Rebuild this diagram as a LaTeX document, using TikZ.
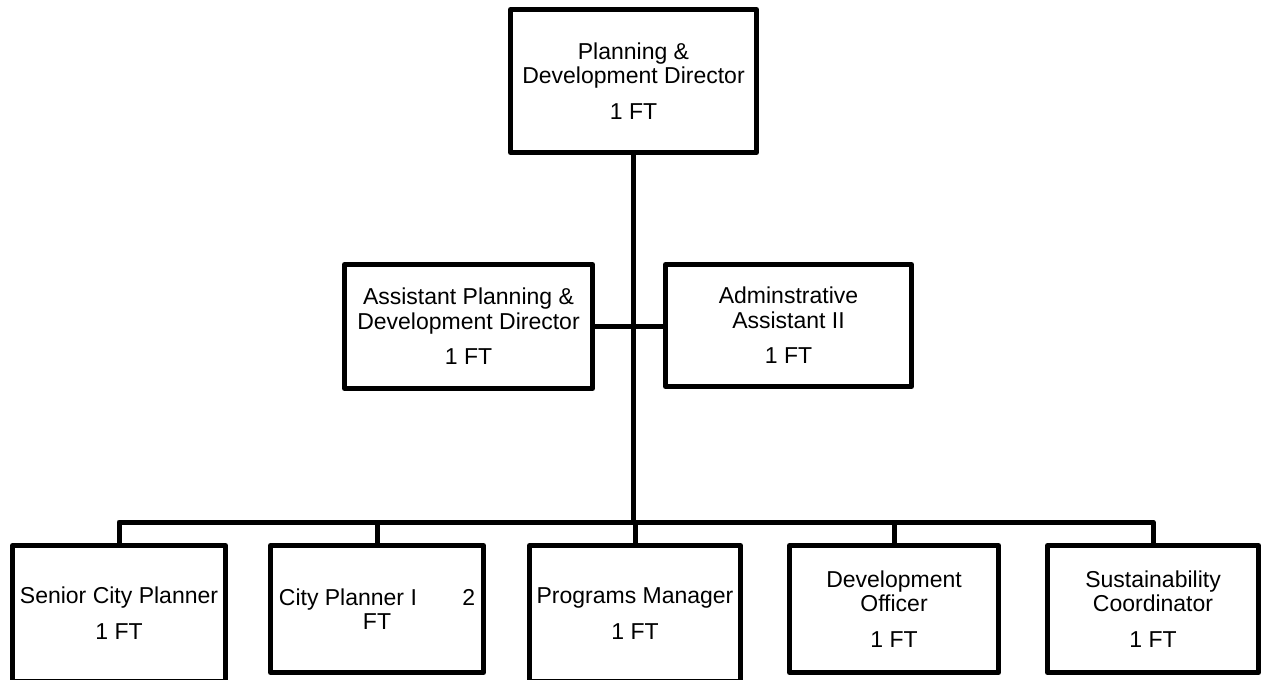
\documentclass[tikz,border=0pt]{standalone}
\usepackage{fontspec}
\setmainfont{Liberation Sans}
\begin{document}
\begin{tikzpicture}[
  x=0.75pt, y=-0.75pt,
  unit/.style={draw=black, line width=3.75pt, line join=round, rectangle,
    inner sep=0pt, align=center, fill=white,
    font=\fontsize{17.25}{18.2}\selectfont},
  link/.style={draw=black, line width=3.75pt, line join=round}
]
\useasboundingbox (0,0) rectangle (1262,679);
\clip (0,0) rectangle (1262,679);
\fill[white] (0,0) rectangle (1262,679);

% director
\node[unit, minimum width=184.5pt, minimum height=107.25pt] (dir) at (633.5,81)
  {Planning \&\\Development Director\\[8.6pt]1 FT};

% staff level
\node[unit, minimum width=186pt, minimum height=93pt] (asst) at (468.5,326.5)
  {Assistant Planning \&\\Development Director\\[8.6pt]1 FT};
\node[unit, minimum width=184.5pt, minimum height=91.5pt] (admin) at (788.5,325.5)
  {Adminstrative\\Assistant II\\[8.6pt]1 FT};

% divisions
\node[unit, minimum width=159.75pt, minimum height=102pt] (senior) at (119,613.5)
  {Senior City Planner\\[8.6pt]1 FT};
\node[unit, minimum width=159.75pt, minimum height=95.25pt] (city) at (377,609)
  {City Planner I\hspace{34pt}2\\FT};
\node[unit, minimum width=158.25pt, minimum height=102pt] (prog) at (635,613.5)
  {Programs Manager\\[8.6pt]1 FT};
\node[unit, minimum width=156.75pt, minimum height=95.25pt] (dev) at (894,609)
  {Development\\Officer\\[8.6pt]1 FT};
\node[unit, minimum width=158.25pt, minimum height=95.25pt] (sust) at (1153,609)
  {Sustainability\\Coordinator\\[8.6pt]1 FT};

% reporting lines
\coordinate (bus) at (633,522);
\draw[link] (dir.south) -- (dir.south |- bus);
\draw[link] (asst.east) -- (asst.east -| admin.west);
\draw[link] (senior.north) |- (bus);
\draw[link] (sust.north) |- (bus);
\draw[link] (city.north) -- (city.north |- bus);
\draw[link] (prog.north) -- (prog.north |- bus);
\draw[link] (dev.north) -- (dev.north |- bus);
\end{tikzpicture}
\end{document}
